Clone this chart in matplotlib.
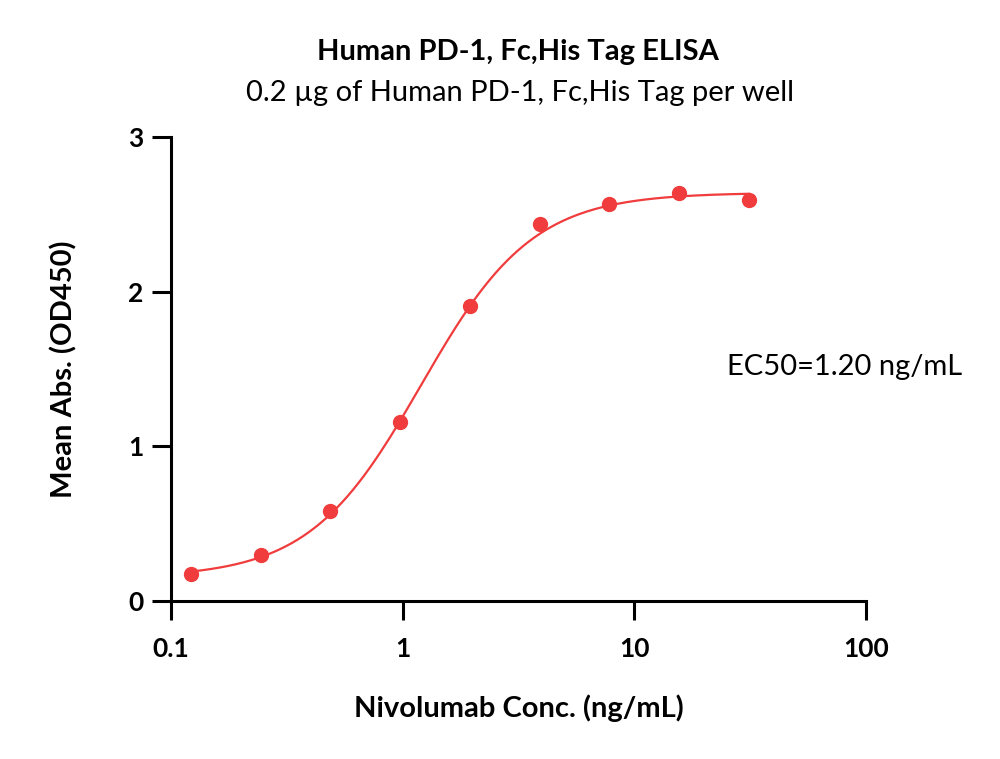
import numpy as np
import matplotlib.pyplot as plt

# measured points (2-fold dilution series)
conc = [0.122, 0.244, 0.488, 0.977, 1.95, 3.91, 7.81, 15.6, 31.25]
od450 = [0.175, 0.30, 0.58, 1.155, 1.905, 2.435, 2.57, 2.635, 2.59]

# 4PL fit parameters
bottom = 0.15
top = 2.64
ec50 = 1.20
hill = 1.8

red = "#F03C3C"
plt.rcParams["font.family"] = ["Lato", "DejaVu Sans"]

fig = plt.figure(figsize=(10, 7.59), dpi=100)
ax = fig.add_axes([0.171, 0.2082, 0.695, 0.6113])

xfit = np.logspace(np.log10(conc[0]), np.log10(conc[-1]), 300)
yfit = bottom + (top - bottom) / (1 + (ec50 / xfit) ** hill)
ax.plot(xfit, yfit, color=red, lw=1.6, zorder=2)
ax.plot(conc, od450, "o", color=red, ms=10, zorder=3, clip_on=False)

ax.set_xscale("log")
ax.set_xlim(0.1, 100)
ax.set_ylim(0, 3)
ax.set_xticks([0.1, 1, 10, 100])
ax.set_xticklabels(["0.1", "1", "10", "100"])
ax.set_yticks([0, 1, 2, 3])
ax.minorticks_off()

for s in ["top", "right"]:
    ax.spines[s].set_visible(False)
for s in ["left", "bottom"]:
    ax.spines[s].set_linewidth(2.2)
ax.tick_params(axis="both", length=14, width=2.2, labelsize=19)
ax.tick_params(axis="x", pad=12)
ax.tick_params(axis="y", pad=6)
for lab in ax.get_xticklabels() + ax.get_yticklabels():
    lab.set_fontweight("bold")

ax.set_xlabel("Nivolumab Conc. (ng/mL)", fontsize=21, fontweight="bold", labelpad=24)
ax.set_ylabel("Mean Abs. (OD450)", fontsize=21, fontweight="bold", labelpad=36)

ax.text(0.80, 0.505, "EC50=1.20 ng/mL", transform=ax.transAxes, fontsize=21,
        ha="left", va="center")

fig.text(0.518, 0.931, "Human PD-1, Fc,His Tag ELISA", fontsize=21,
         fontweight="bold", ha="center", va="center")
fig.text(0.52, 0.877, "0.2 \u00b5g of Human PD-1, Fc,His Tag per well", fontsize=21,
         ha="center", va="center")

fig.savefig("out.png", dpi=100)
